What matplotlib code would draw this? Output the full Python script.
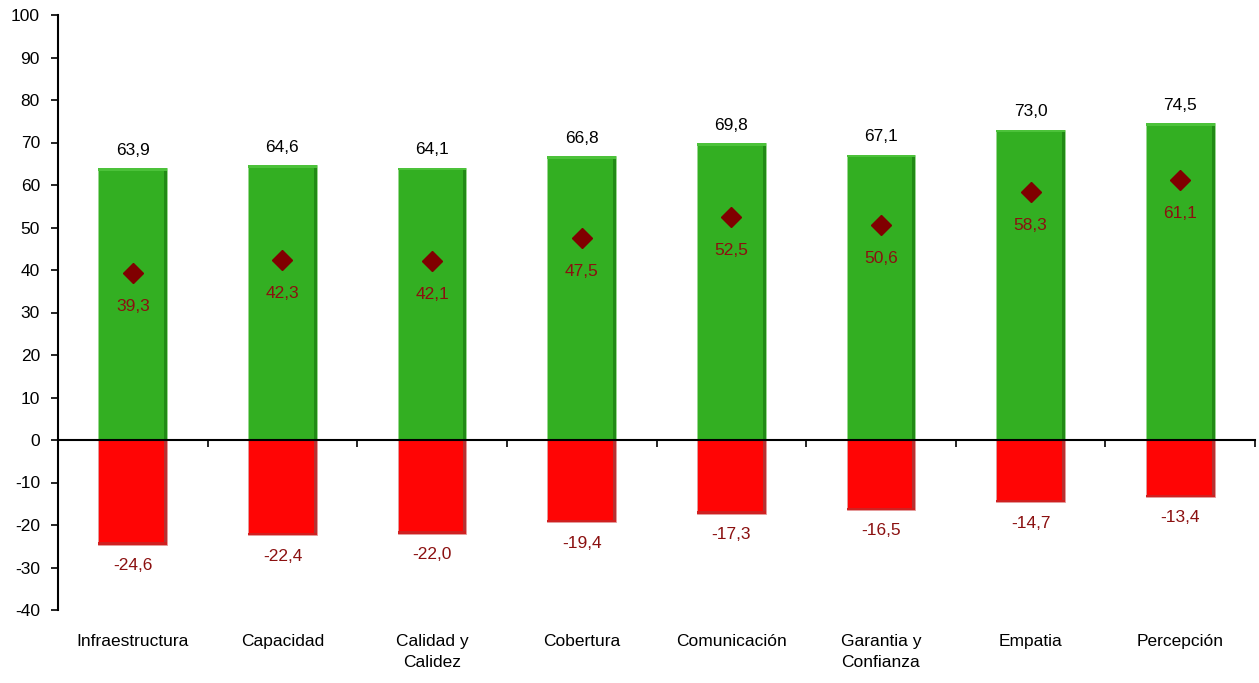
import matplotlib
matplotlib.use("Agg")
import matplotlib.pyplot as plt
import matplotlib.transforms as mtransforms
import numpy as np

categories = ["Infraestructura", "Capacidad", "Calidad y\nCalidez", "Cobertura",
              "Comunicación", "Garantia y\nConfianza", "Empatia", "Percepción"]
positive = [63.9, 64.6, 64.1, 66.8, 69.8, 67.1, 73.0, 74.5]
negative = [-24.6, -22.4, -22.0, -19.4, -17.3, -16.5, -14.7, -13.4]
net = [39.3, 42.3, 42.1, 47.5, 52.5, 50.6, 58.3, 61.1]

def fmt(v):
    return f"{v:.1f}".replace(".", ",")

plt.rcParams['font.family'] = ['Liberation Sans', 'DejaVu Sans']
plt.rcParams['axes.unicode_minus'] = False

FS = 12.5

fig = plt.figure(figsize=(12.59, 6.83), dpi=100)
ax = fig.add_axes([58/1259, 1-610/683, (1255-58)/1259, (610-15)/683])

x = np.arange(len(categories))
w = 0.46
green = '#33AF22'
red = '#FF0505'

ax.bar(x, positive, width=w, color=green, edgecolor='#9AD88F', linewidth=0.6, zorder=2)
ax.bar(x, negative, width=w, color=red, edgecolor='#E0A0A0', linewidth=0.6, zorder=2)
# bevel accents
pos = np.array(positive); neg = np.array(negative)
ax.bar(x + w/2 - 0.01, pos, width=0.02, color='#218A15', zorder=3)
ax.bar(x, 0.6, bottom=pos - 0.6, width=w, color='#4CC23A', zorder=3)
ax.bar(x + w/2 - 0.01, neg, width=0.02, color='#B83030', zorder=3)
ax.bar(x, -0.5, bottom=neg + 0.5, width=w, color='#D02020', zorder=3)

ax.plot(x, net, linestyle='none', marker='D', markersize=10.5,
        color='#800000', zorder=4)

for xi, p, n, m in zip(x, positive, negative, net):
    ax.annotate(fmt(p), (xi, p), xytext=(0, 13), textcoords='offset points',
                ha='center', va='center', fontsize=FS, color='black')
    ax.annotate(fmt(n), (xi, n), xytext=(0, -15), textcoords='offset points',
                ha='center', va='center', fontsize=FS, color='#8B1010')
    ax.annotate(fmt(m), (xi, m), xytext=(0, -24), textcoords='offset points',
                ha='center', va='center', fontsize=FS, color='#8B1010')

ax.set_xlim(-0.5, len(categories) - 0.5)
ax.set_ylim(-40, 100)
ax.set_yticks(np.arange(-40, 101, 10))
ax.tick_params(axis='y', labelsize=FS, length=5, width=1.2, direction='out', pad=8)

ax.spines['top'].set_visible(False)
ax.spines['right'].set_visible(False)
ax.spines['left'].set_linewidth(1.5)
ax.spines['bottom'].set_position(('data', 0))
ax.spines['bottom'].set_linewidth(1.5)
ax.spines['bottom'].set_zorder(5)
ax.set_xticks(np.arange(-0.5, len(categories), 1.0))
ax.set_xticklabels([])
ax.tick_params(axis='x', length=5, width=1.2, direction='out')

trans = mtransforms.blended_transform_factory(ax.transData, ax.transAxes)
for xi, c in zip(x, categories):
    ax.annotate(c, (xi, 0), xycoords=trans, xytext=(0, -17), textcoords='offset points',
                ha='center', va='top', fontsize=FS, linespacing=1.55)

fig.savefig("out.png", dpi=100)
